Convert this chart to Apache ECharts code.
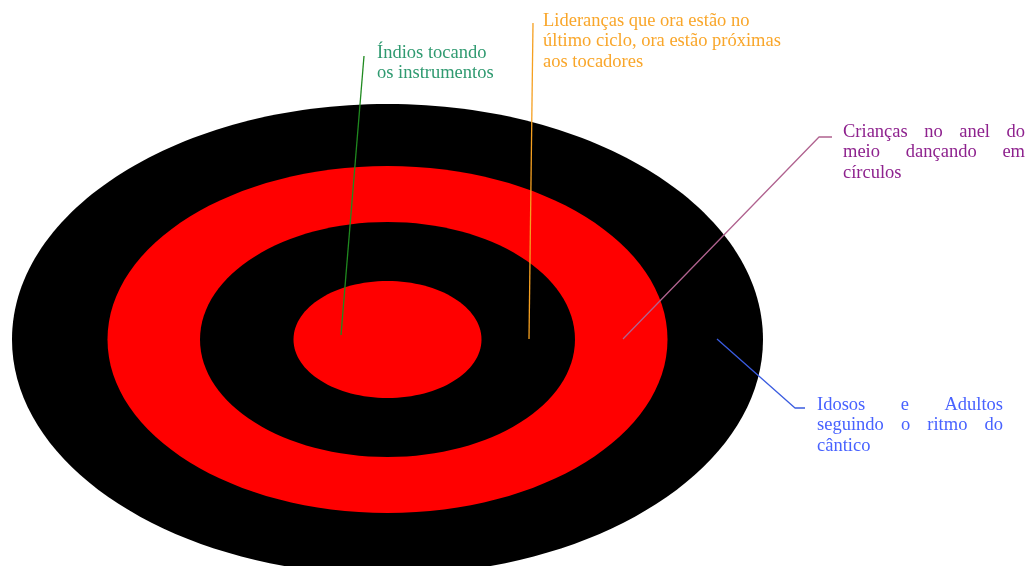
<!DOCTYPE html>
<html>
<head>
<meta charset="utf-8">
<script src="https://cdn.jsdelivr.net/npm/echarts@6/dist/echarts.min.js"></script>
<style>
  html, body { margin: 0; padding: 0; background: #fff; }
  #chart { width: 1036px; height: 566px; }
</style>
</head>
<body>
<div id="chart"></div>
<script>
// rings from outside to inside (diagram units, same scale on both axes)
const ringCenter = [387.5, 339.5];
const ringRadiusX = [375.5, 280, 187.5, 94];
const ringRadiusY = [235.5, 173.5, 117.5, 58.5];
const ringColors = ['#000000', '#ff0000', '#000000', '#ff0000'];

// annotation texts
const labelLines = [
  ['Índios tocando', 'os instrumentos'],
  ['Lideranças que ora estão no', 'último ciclo, ora estão próximas', 'aos tocadores'],
  ['Crianças no anel do', 'meio dançando em', 'círculos'],
  ['Idosos e Adultos', 'seguindo o ritmo do', 'cântico']
];
// leader line points for each annotation
const leaderPoints = [
  [[364, 56], [341, 335]],
  [[533, 23], [529, 339]],
  [[832, 137], [819, 137], [623, 339]],
  [[717, 339], [795, 408], [805, 408]]
];
// text anchor: [left, baseline of first line, right edge for justified lines]
const labelAnchor = [
  [377, 58, null],
  [543, 26, null],
  [843, 137, 1025],
  [817, 410, 1003]
];
const textColors = ['#2f9a70', '#f9a62a', '#8e228e', '#4862ff'];
const lineColors = ['#1f8a1f', '#f5a020', '#b0628f', '#3a5ce0'];

const FONT_SIZE = 18.5;
const FONT = FONT_SIZE + 'px "Liberation Serif", "Times New Roman", serif';
const LINE_GAP = 20.5;

const measureCtx = document.createElement('canvas').getContext('2d');
measureCtx.font = FONT;
function textWidth(s) { return measureCtx.measureText(s).width; }

const chart = echarts.init(document.getElementById('chart'));

const series = [
  {
    type: 'custom',
    coordinateSystem: 'cartesian2d',
    silent: true,
    data: ringRadiusX.map((rx, i) => [ringCenter[0], ringCenter[1], rx, ringRadiusY[i]]),
    renderItem: function (params, api) {
      const c = api.coord([api.value(0), api.value(1)]);
      const s = api.size([api.value(2), api.value(3)]);
      return {
        type: 'ellipse',
        shape: { cx: c[0], cy: c[1], rx: s[0], ry: s[1] },
        style: { fill: ringColors[params.dataIndex] }
      };
    }
  }
];

leaderPoints.forEach((pts, i) => {
  series.push({
    type: 'line',
    data: pts,
    symbol: 'none',
    silent: true,
    z: 3,
    lineStyle: { color: lineColors[i], width: 1.3 }
  });
});

series.push({
  type: 'custom',
  coordinateSystem: 'cartesian2d',
  silent: true,
  z: 4,
  data: labelAnchor.map((a, i) => [a[0], a[1], a[2] == null ? a[0] : a[2], i]),
  renderItem: function (params, api) {
    const i = params.dataIndex;
    const left = api.coord([api.value(0), api.value(1)]);
    const right = api.coord([api.value(2), api.value(1)]);
    const justify = labelAnchor[i][2] != null;
    const children = [];
    labelLines[i].forEach((line, k) => {
      const y = left[1] + k * LINE_GAP - 5;
      const last = k === labelLines[i].length - 1;
      const words = line.split(' ');
      if (justify && !last && words.length > 1) {
        const total = words.reduce((a, w) => a + textWidth(w), 0);
        const gap = (right[0] - left[0] - total) / (words.length - 1);
        let x = left[0];
        words.forEach((w) => {
          children.push({
            type: 'text',
            style: { text: w, x: x, y: y, font: FONT, fill: textColors[i], verticalAlign: 'middle', align: 'left' }
          });
          x += textWidth(w) + gap;
        });
      } else {
        children.push({
          type: 'text',
          style: { text: line, x: left[0], y: y, font: FONT, fill: textColors[i], verticalAlign: 'middle', align: 'left' }
        });
      }
    });
    return { type: 'group', children: children };
  }
});

chart.setOption({
  animation: false,
  backgroundColor: '#ffffff',
  grid: { left: 0, right: 0, top: 0, bottom: 0 },
  xAxis: { type: 'value', min: 0, max: 1036, show: false },
  yAxis: { type: 'value', min: 0, max: 566, inverse: true, show: false },
  series: series
});
</script>
</body>
</html>
